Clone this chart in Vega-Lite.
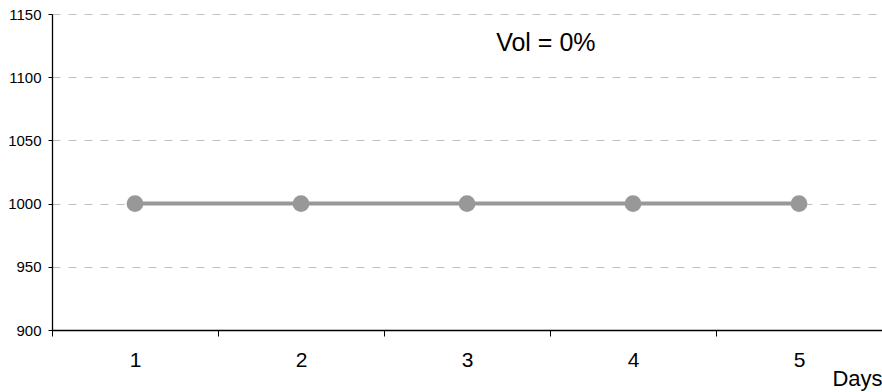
{
  "$schema": "https://vega.github.io/schema/vega-lite/v6.json",
  "width": 830,
  "height": 316,
  "autosize": "none",
  "padding": {"left": 52, "top": 14, "right": 0, "bottom": 62},
  "background": "white",
  "config": {
    "view": {"stroke": null},
    "font": "Liberation Sans",
    "axis": {"labelFont": "Liberation Sans", "titleFont": "Liberation Sans", "labelColor": "#000000", "titleColor": "#000000"}
  },
  "data": {"values": [
    {"day": "1", "value": 1000},
    {"day": "2", "value": 1000},
    {"day": "3", "value": 1000},
    {"day": "4", "value": 1000},
    {"day": "5", "value": 1000}
  ]},
  "encoding": {
    "x": {
      "field": "day", "type": "ordinal",
      "scale": {"paddingInner": 0, "paddingOuter": 0},
      "axis": {
        "title": "Days", "titleAnchor": "end", "titleAlign": "right", "titleX": 830, "titleY": 55,
        "titleBaseline": "alphabetic", "titleFontSize": 22, "titleFontWeight": "normal",
        "labelAngle": 0, "labelFontSize": 21, "labelPadding": 13,
        "tickBand": "extent", "tickSize": 6, "tickColor": "#000000", "domainColor": "#000000",
        "tickWidth": 1, "domainWidth": 1.3, "grid": false
      }
    },
    "y": {
      "field": "value", "type": "quantitative",
      "scale": {"domain": [900, 1150], "nice": false, "zero": false},
      "axis": {
        "title": null, "values": [900, 950, 1000, 1050, 1100, 1150], "format": "d",
        "labelFontSize": 15, "labelPadding": 7, "tickSize": 4,
        "tickColor": "#000000", "domainColor": "#000000", "domainWidth": 1.3,
        "grid": true, "gridColor": "#c0c0c0", "gridDash": [8, 8], "gridWidth": 1
      }
    }
  },
  "layer": [
    {"mark": {"type": "line", "color": "#989898", "strokeWidth": 4}},
    {"mark": {"type": "point", "filled": true, "color": "#989898", "size": 283, "opacity": 1}},
    {
      "data": {"values": [{"label": "Vol = 0%", "day": "3", "value": 1127}]},
      "mark": {"type": "text", "fontSize": 25, "align": "center", "baseline": "middle", "color": "#000000"},
      "encoding": {
        "x": {"field": "day", "type": "ordinal", "bandPosition": 0.975},
        "y": {"field": "value", "type": "quantitative"},
        "text": {"field": "label"}
      }
    }
  ]
}
